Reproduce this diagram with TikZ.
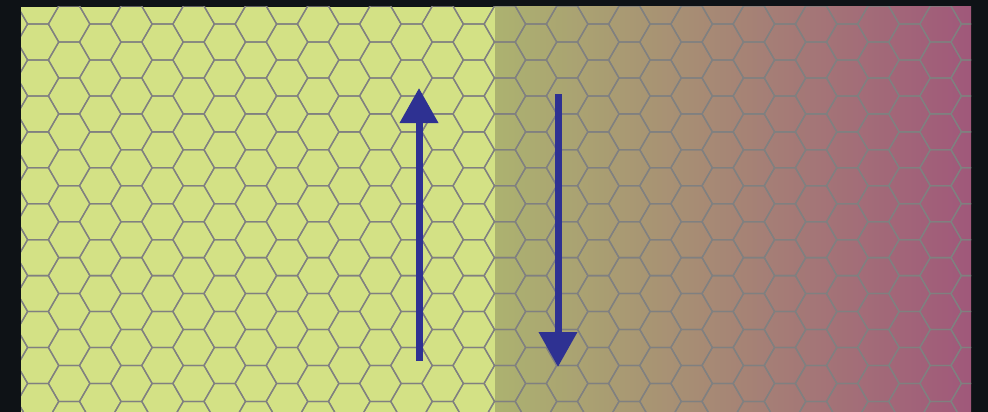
\documentclass[tikz,border=0pt]{standalone}
\usepackage{tikz}
\usetikzlibrary{arrows.meta}
\definecolor{backdark}{RGB}{14,18,22}
\definecolor{leafgreen}{RGB}{211,225,133}
\definecolor{olivegreen}{RGB}{172,178,112}
\definecolor{dustypink}{RGB}{160,88,122}
\definecolor{cellgray}{RGB}{128,128,128}
\definecolor{flowblue}{RGB}{46,49,146}

\begin{document}
\begin{tikzpicture}[x=1pt,y=-1pt,
    hexline/.style={draw=cellgray,line width=1.3pt},
    flow/.style={draw=flowblue,line width=7pt,-{Triangle[width=37pt,length=35pt]}}]
    \useasboundingbox (0,0) rectangle (988,412);
    \fill[backdark] (0,0) rectangle (988,412);
    % two regions
    \fill[leafgreen] (21,7) rectangle (495,412);
    \shade[left color=olivegreen,right color=dustypink] (495,7) rectangle (971,412);
    % hexagon grid
    \begin{scope}
      \clip (21,7) rectangle (971,412);
      \foreach \i in {-1,...,31} {
        \foreach \j in {-1,...,11} {
          \pgfmathsetmacro\cx{38+31.125*\i}
          \pgfmathsetmacro\cy{42+35.94*\j+17.97*mod(abs(\i),2)}
          \draw[hexline] (\cx,\cy) ++(0:20.75pt) -- ++(120:20.75pt) -- ++(180:20.75pt)
            -- ++(240:20.75pt) -- ++(300:20.75pt) -- ++(0:20.75pt) -- cycle;
        }
      }
    \end{scope}
    % arrows
    \coordinate (upfoot) at (419,361);
    \coordinate (uptip) at (419,88);
    \coordinate (downfoot) at (558,94);
    \coordinate (downtip) at (558,367);
    \draw[flow] (upfoot) -- (uptip);
    \draw[flow] (downfoot) -- (downtip);
  \end{tikzpicture}
\end{document}
